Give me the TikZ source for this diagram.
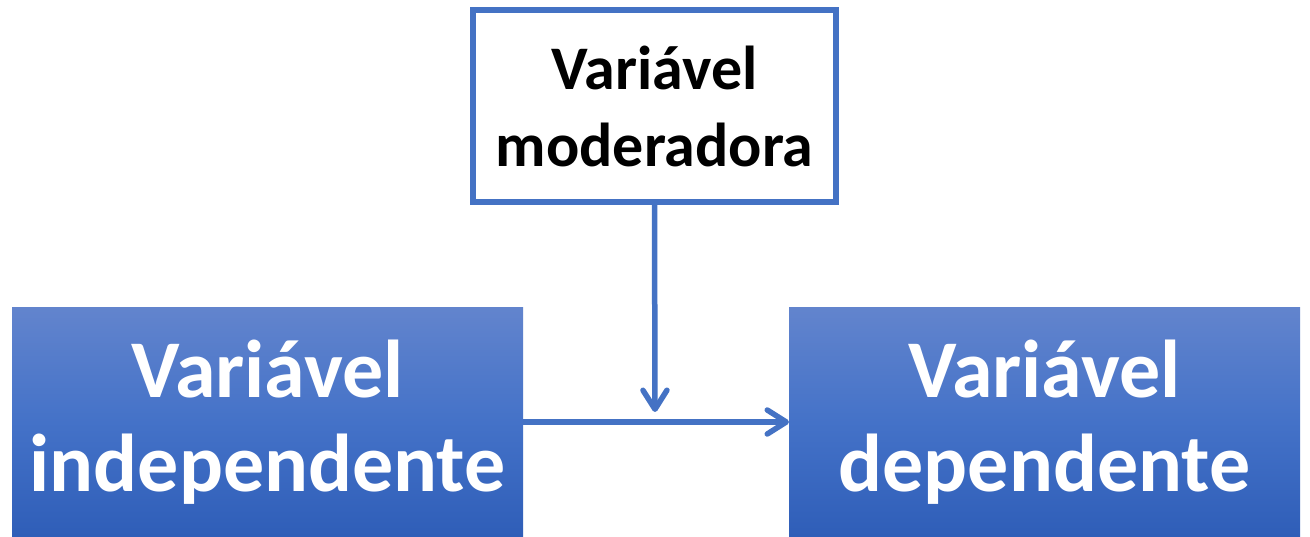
\documentclass[tikz,border=0pt]{standalone}
\usepackage{fontspec}
\setmainfont{Carlito}
\usetikzlibrary{arrows.meta}
\definecolor{lineblue}{RGB}{68,114,196}
\definecolor{gtop}{RGB}{98,132,205}
\definecolor{gmid}{RGB}{68,114,200}
\definecolor{gbot}{RGB}{47,94,184}
\tikzset{
  bluebox/.style={rectangle, inner sep=0pt, outer sep=0pt, draw=none,
    top color=gtop, bottom color=gbot, middle color=gmid,
    minimum width=511pt, minimum height=228pt, align=center, text=white,
    font=\bfseries\fontsize{82}{94}\selectfont},
  modbox/.style={rectangle, inner sep=0pt, outer sep=0pt, draw=lineblue, fill=white,
    line width=6.5pt, minimum width=363pt, minimum height=192pt, align=center,
    font=\bfseries\fontsize{62}{77}\selectfont},
  conn/.style={draw=lineblue, line width=5.5pt,
    -{Straight Barb[length=19pt,width=24pt,line cap=round,line join=round]}}
}
\begin{document}
\begin{tikzpicture}[x=1pt,y=1pt]
\useasboundingbox (0,0) rectangle (1310,536);
\fill[white] (0,0) rectangle (1310,536);
\node[bluebox] (indep) at (267.5,114) {Variável\\independente};
\node[bluebox] (dep) at (1044.5,114) {Variável\\dependente};
\node[modbox] (mod) at (654.5,430) {Variável\\moderadora};
\coordinate (mid) at (655,124);
\draw[conn] (indep.east) -- (dep.west);
\draw[conn] (mod.south) -- (mid);
\end{tikzpicture}
\end{document}
